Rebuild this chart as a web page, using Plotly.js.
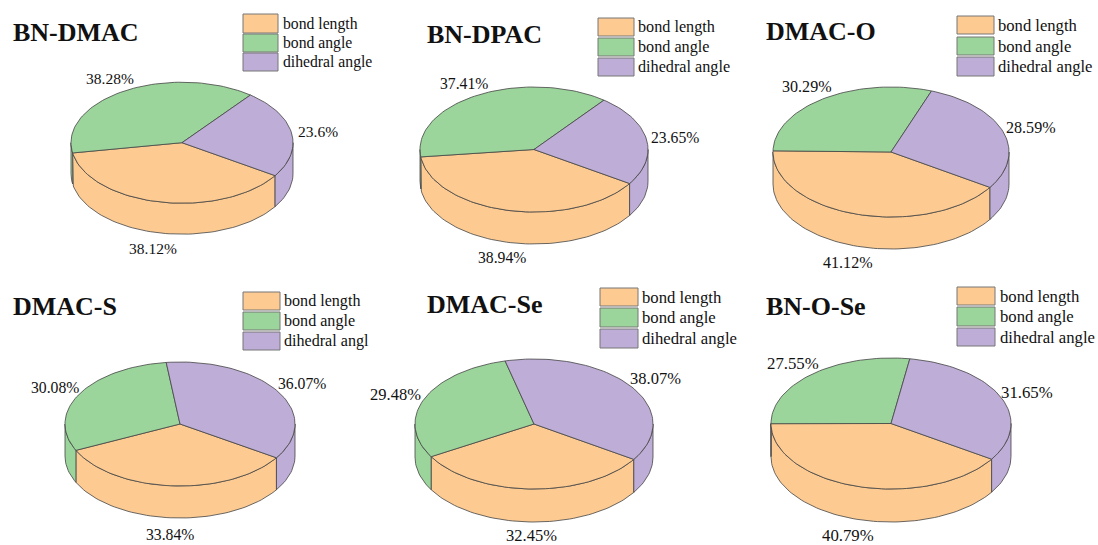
<!DOCTYPE html>
<html>
<head>
<meta charset="utf-8">
<script src="https://cdn.plot.ly/plotly-3.0.1.min.js"></script>
<style>html,body{margin:0;padding:0;background:#fff;overflow:hidden}#chart{width:1098px;height:545px}</style>
</head>
<body>
<div id="chart"></div>
<script>
// ---- data ----
var panelNames = ['BN-DMAC', 'BN-DPAC', 'DMAC-O', 'DMAC-S', 'DMAC-Se', 'BN-O-Se'];
var bondLength = [38.12, 38.94, 41.12, 33.84, 32.45, 40.79];
var bondAngle = [38.28, 37.41, 30.29, 30.08, 29.48, 27.55];
var dihedralAngle = [23.6, 23.65, 28.59, 36.07, 38.07, 31.65];
var seriesNames = ['bond length', 'bond angle'];
var dihedralLabels = ['dihedral angle', 'dihedral angle', 'dihedral angle', 'dihedral angl', 'dihedral angle', 'dihedral angle'];

// ---- layout and style ----
var colors = ['#FDCB92', '#9BD59B', '#BEADD6'];
var edge = '#444444';
var serif = '"Liberation Serif", "Times New Roman", serif';
var startDeg = 33;
// cx, cy, rx, ry, depth of each drum
var drums = [
  [182, 142.7, 111, 60.5, 31], [534, 149.5, 114, 62.5, 32], [891, 152, 118, 65, 32],
  [180, 424, 115, 62, 32], [534, 424, 119, 65, 33], [891, 423.5, 120, 65.5, 33]
];
var titlePos = [[11, 32], [425, 34], [764, 31], [11, 306], [425, 304], [764, 306]];
var legendFont = [15.7, 16.2, 16.6, 16.1, 16.7, 16.7];
var labelFont = [15.5, 15.7, 16.1, 15.7, 16.5, 16.8];
// left, right of swatches; then [top, bottom] per row; text x
var legends = [
  {x0: 243, x1: 278, rows: [[14, 33], [34, 52], [53, 71]], tx: 281},
  {x0: 598, x1: 634, rows: [[18, 36], [38, 56], [58, 76]], tx: 636},
  {x0: 957, x1: 994, rows: [[16, 34], [37, 55], [57, 76]], tx: 996},
  {x0: 243, x1: 280, rows: [[292, 310], [312, 330], [332, 350]], tx: 282},
  {x0: 600, x1: 638, rows: [[288, 306], [308, 327], [329, 348]], tx: 640},
  {x0: 957, x1: 995, rows: [[287, 305], [307, 326], [328, 346]], tx: 998}
];
// label centres, in series order
var labelPos = [
  [[153, 248], [110, 78], [318, 131]],
  [[502, 257], [464, 83], [675, 137]],
  [[848, 262], [807, 86], [1031, 127]],
  [[170, 534], [55, 387], [302, 383]],
  [[531, 535], [395, 394], [655, 378]],
  [[848, 535], [793, 363], [1027, 392]]
];

var traces = [], shapes = [], annotations = [];

function arc(d, a, b, dy) {
  var xs = [], ys = [], n = Math.max(2, Math.ceil(Math.abs(b - a) / 2));
  for (var i = 0; i <= n; i++) {
    var t = (a + (b - a) * i / n) * Math.PI / 180;
    xs.push(d[0] + d[2] * Math.cos(t));
    ys.push(d[1] + d[3] * Math.sin(t) + dy);
  }
  return {x: xs, y: ys};
}
function polygon(xs, ys, color, name) {
  traces.push({
    type: 'scatter', mode: 'lines', x: xs, y: ys, fill: 'toself', fillcolor: color,
    line: {color: edge, width: 0.8}, hoverinfo: 'skip', showlegend: false, name: name
  });
}
function text(x, y, str, size, anchor, bold) {
  annotations.push({
    xref: 'x', yref: 'y', x: x, y: y, text: bold ? '<b>' + str + '</b>' : str, showarrow: false,
    xanchor: anchor, yanchor: 'middle', font: {family: serif, size: size, color: '#111'}
  });
}

panelNames.forEach(function (title, p) {
  var d = drums[p];
  var vals = [bondLength[p], bondAngle[p], dihedralAngle[p]];
  var names = [seriesNames[0], seriesNames[1], dihedralLabels[p]];
  var bounds = [startDeg];
  vals.forEach(function (v, i) { bounds.push(bounds[i] + v * 3.6); });
  bounds[3] = startDeg + 360;

  // side walls: only the part of each slice on the near half
  vals.forEach(function (v, i) {
    [[0, 180], [360, 540]].forEach(function (w) {
      var a = Math.max(bounds[i], w[0]), b = Math.min(bounds[i + 1], w[1]);
      if (b > a) {
        var top = arc(d, a, b, 0), low = arc(d, b, a, d[4]);
        polygon(top.x.concat(low.x, [top.x[0]]), top.y.concat(low.y, [top.y[0]]), colors[i], title + ' ' + names[i] + ' side');
      }
    });
  });
  // top face
  vals.forEach(function (v, i) {
    var c = arc(d, bounds[i], bounds[i + 1], 0);
    polygon([d[0]].concat(c.x, [d[0]]), [d[1]].concat(c.y, [d[1]]), colors[i], title + ' ' + names[i]);
    text(labelPos[p][i][0], labelPos[p][i][1], v + '%', labelFont[p], 'center', false);
  });

  text(titlePos[p][0], titlePos[p][1], title, 26, 'left', true);
  var L = legends[p];
  L.rows.forEach(function (r, i) {
    shapes.push({
      type: 'rect', xref: 'x', yref: 'y', x0: L.x0, x1: L.x1, y0: r[0], y1: r[1],
      fillcolor: colors[i], line: {color: '#777777', width: 1}
    });
    text(L.tx, (r[0] + r[1]) / 2, names[i], legendFont[p], 'left', false);
  });
});

var hidden = {visible: false, fixedrange: true};
Plotly.newPlot('chart', traces, {
  width: 1098, height: 545, margin: {l: 0, r: 0, t: 0, b: 0},
  paper_bgcolor: '#fff', plot_bgcolor: '#fff', showlegend: false,
  xaxis: Object.assign({range: [0, 1098]}, hidden),
  yaxis: Object.assign({range: [545, 0]}, hidden),
  shapes: shapes, annotations: annotations
}, {displayModeBar: false, staticPlot: true});
</script>
</body>
</html>
